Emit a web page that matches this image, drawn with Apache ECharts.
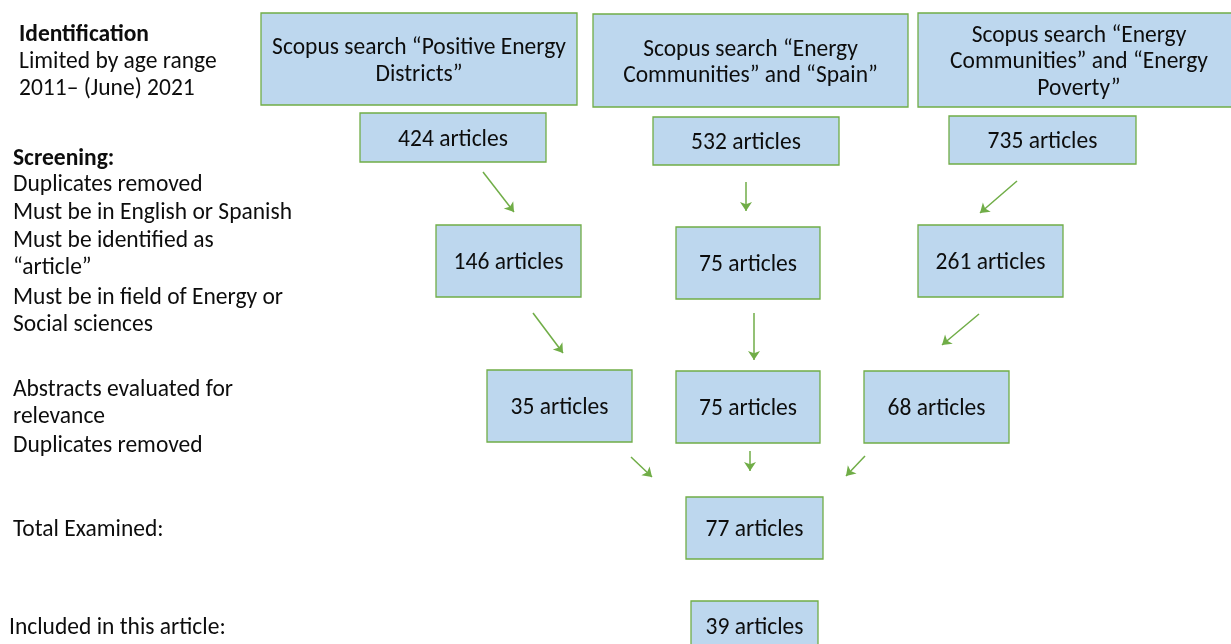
<!DOCTYPE html>
<html><head><meta charset="utf-8">
<script src="https://cdn.jsdelivr.net/npm/echarts@6/dist/echarts.min.js"></script>
<style>html,body{margin:0;padding:0;background:#fff}#c{width:1231px;height:644px}</style>
</head><body><div id="c"></div>
<script>
// Flowchart boxes
const boxLabels = [
  'Scopus search \u201cPositive Energy\nDistricts\u201d',
  'Scopus search \u201cEnergy\nCommunities\u201d and \u201cSpain\u201d',
  'Scopus search \u201cEnergy\nCommunities\u201d and \u201cEnergy\nPoverty\u201d',
  '424 articles', '532 articles', '735 articles',
  '146 articles', '75 articles', '261 articles',
  '35 articles', '75 articles', '68 articles',
  '77 articles', '39 articles'
];
const boxX0 = [261, 593, 918, 360, 653, 949, 436, 676, 918, 487, 676, 864, 686, 691];
const boxY0 = [13, 14, 13, 113, 117, 116, 225, 227, 225, 370, 371, 371, 497, 601];
const boxX1 = [577, 908, 1240, 546, 839, 1136, 581, 820, 1063, 632, 820, 1009, 823, 818];
const boxY1 = [105, 107, 107, 162, 165, 164, 297, 299, 297, 442, 443, 443, 559, 660];

// Arrows
const arrowFrom = [[483,172],[746,182],[1017,181],[533,313],[754,313],[979,314],[631,457],[750,451],[865,456]];
const arrowTo   = [[514,212],[746,211],[980,213],[563,353],[754,360],[942,345],[652,477],[750,471],[846,476]];

// Stage annotations on the left
const sideText = ['Identification','Limited by age range','2011\u2013 (June) 2021',
  'Screening:','Duplicates removed','Must be in English or Spanish','Must be identified as',
  '\u201carticle\u201d','Must be in field of Energy or','Social sciences',
  'Abstracts evaluated for','relevance','Duplicates removed','Total Examined:','Included in this article:'];
const sideX = [19,19,19,13,13,13,13,13,13,13,13,13,13,13,9];
const sideY = [33,60,87,157,183,211,239,266,296,323,388,415,444,528,626];
const sideBold = [true,false,false,true,false,false,false,false,false,false,false,false,false,false,false];

const FONT = 'Carlito, Lato, "Liberation Sans", sans-serif';
const SHIFT = 2.5;
const chart = echarts.init(document.getElementById('c'));
chart.setOption({
  animation: false,
  grid: {left: 0, right: 0, top: 0, bottom: 0},
  xAxis: {type: 'value', min: 0, max: 1231, show: false},
  yAxis: {type: 'value', min: 0, max: 644, inverse: true, show: false},
  series: [
    {
      type: 'custom', coordinateSystem: 'cartesian2d',
      data: boxX0.map((x, i) => [x, boxY0[i], boxX1[i], boxY1[i]]),
      renderItem: function (params, api) {
        const p0 = api.coord([api.value(0), api.value(1)]);
        const p1 = api.coord([api.value(2), api.value(3)]);
        const cy = params.dataIndex === 13 ? api.coord([0, 626])[1] : (p0[1] + p1[1]) / 2;
        return {type: 'group', children: [
          {type: 'rect', shape: {x: p0[0], y: p0[1], width: p1[0]-p0[0], height: p1[1]-p0[1]},
           style: {fill: '#BDD7EE', stroke: '#70AD47', lineWidth: 1.3}},
          {type: 'text', x: (p0[0]+p1[0])/2, y: cy + SHIFT,
           style: {text: boxLabels[params.dataIndex], align: 'center', verticalAlign: 'middle',
             fontSize: 23.5, fontFamily: FONT, lineHeight: 26.5, fill: '#0d0d0d'}}
        ]};
      }
    },
    {
      type: 'lines', coordinateSystem: 'cartesian2d',
      symbol: ['none', 'arrow'], symbolSize: 9,
      lineStyle: {color: '#70AD47', width: 1.5, opacity: 1},
      data: arrowFrom.map((f, i) => ({coords: [f, arrowTo[i]]}))
    },
    {
      type: 'custom', coordinateSystem: 'cartesian2d',
      data: sideX.map((x, i) => [x, sideY[i]]),
      renderItem: function (params, api) {
        const p = api.coord([api.value(0), api.value(1)]);
        return {type: 'text', x: p[0], y: p[1] + SHIFT,
          style: {text: sideText[params.dataIndex], align: 'left', verticalAlign: 'middle',
            fontSize: 23.5, fontWeight: sideBold[params.dataIndex] ? 'bold' : 'normal',
            fontFamily: FONT, fill: '#0d0d0d'}};
      }
    }
  ]
});
</script>
</body></html>
